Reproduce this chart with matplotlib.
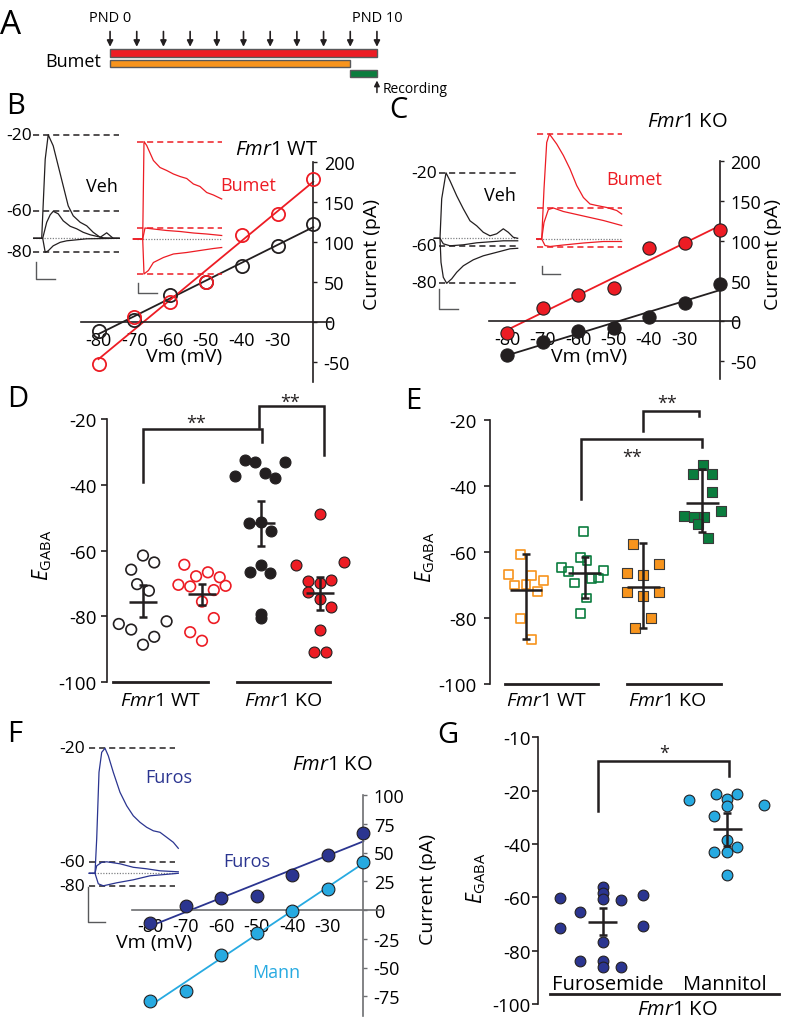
import numpy as np
import matplotlib
matplotlib.use('Agg')
import matplotlib.pyplot as plt

plt.rcParams['font.family'] = ['Open Sans', 'DejaVu Sans']
plt.rcParams['mathtext.fontset'] = 'custom'
plt.rcParams['mathtext.rm'] = 'Open Sans'
plt.rcParams['mathtext.it'] = 'Open Sans:italic'
plt.rcParams['mathtext.bf'] = 'Open Sans:bold'
plt.rcParams['axes.unicode_minus'] = False

RED = '#ED1C24'; ORANGE = '#F7941D'; GREEN = '#0B7D3E'
DBLUE = '#2B3590'; LBLUE = '#27AAE1'; INK = '#231F20'

# ---------------- data ----------------
# Panel A: treatment schedule (postnatal days)
pnd_days = [0, 1, 2, 3, 4, 5, 6, 7, 8, 9, 10]
sched_start = [0, 0, 9]
sched_end = [10, 9, 10]

# I-V relations (Vm in mV, current in pA)
vm = [-80, -70, -60, -50, -40, -30, -20]
iv_b_veh = [-11, 3, 34, 50, 70, 96, 123]
iv_b_bumet = [-52, 7, 25, 50, 109, 136, 179]
iv_c_veh = [-43, -26, -13, -9, 5, 22, 46]
iv_c_bumet = [-15, 15.5, 32, 41, 90.5, 97, 114]
iv_f_furos = [-11.6, 3.7, 10.2, 11.9, 30.4, 47.8, 67]
iv_f_mann = [-79.4, -70.2, -38.9, -20, -0.6, 18.3, 41.5]
iv_yticks_bc = [-50, 0, 50, 100, 150, 200]
iv_yticks_f = [-75, -50, -25, 0, 25, 50, 75, 100]

# Example GABA current traces (time ms, current pA)
bveh1_t = [-90, -10, 25, 55, 105, 155, 205, 255, 305, 375, 440, 505, 575, 640, 675, 705, 765]
bveh1_i = [0, 0, 158, 207, 185, 145, 105, 65, 45, 32, 25, 12, 2, 11, 5, 0, 0]
bveh2_t = [-90, 0, 40, 75, 105, 155, 205, 275, 340, 405, 475, 540, 605, 765]
bveh2_i = [0, 0, 32, 47, 54, 49, 35, 24, 19, 12, 7, 4, 1, 0]
bveh3_t = [-90, 0, 25, 55, 105, 175, 240, 340, 440, 765]
bveh3_i = [0, 0, -28, -25, -15, -8, -5, -3, -1, 0]

bbum1_t = [-93, 0, 13, 40, 107, 173, 240, 307, 373, 440, 507, 573, 640, 707, 790]
bbum1_i = [0, 0, 195, 187, 157, 143, 137, 130, 125, 121, 110, 105, 93, 88, 80]
bbum2_t = [-93, 0, 23, 107, 240, 373, 507, 640, 790]
bbum2_i = [0, 0, 22, 20, 17, 15, 12, 10, 7]
bbum3_t = [-93, 0, 13, 57, 107, 207, 307, 440, 573, 707, 790]
bbum3_i = [0, 0, -70, -63, -47, -37, -30, -27, -23, -19, -17]

cveh1_t = [-57, 0, 17, 60, 100, 167, 233, 300, 367, 433, 500, 567, 633, 683, 733, 777]
cveh1_i = [0, 0, 79, 131, 115, 85, 59, 35, 25, 12, 5, 9, 19, 12, 2, 0]
cveh2_t = [-57, 0, 33, 100, 233, 367, 500, 633, 777]
cveh2_i = [0, 0, -11, -15, -13, -9, -7, -5, -5]
cveh3_t = [-57, 0, 10, 33, 67, 117, 167, 233, 333, 433, 567, 700, 777]
cveh3_i = [0, 0, -48, -78, -90, -81, -68, -55, -43, -35, -28, -21, -20]

cbum1_t = [-50, 0, 23, 50, 77, 150, 217, 283, 350, 417, 483, 550, 650, 750, 800]
cbum1_i = [0, 0, 100, 193, 210, 190, 167, 140, 107, 83, 70, 67, 63, 57, 50]
cbum2_t = [-50, 0, 23, 67, 117, 217, 350, 483, 617, 800]
cbum2_i = [0, 0, 33, 59, 62, 55, 49, 43, 37, 27]
cbum3_t = [-50, 0, 33, 83, 217, 417, 617, 800]
cbum3_i = [0, 0, -13, -15, -12, -8, -5, -5]

ffur1_t = [-57, 0, 17, 40, 67, 100, 133, 183, 250, 317, 383, 450, 517, 583, 650, 717, 783, 833]
ffur1_i = [0, 0, 69, 202, 242, 250, 235, 202, 162, 135, 115, 102, 92, 85, 82, 72, 62, 50]
ffur2_t = [-57, 0, 17, 67, 117, 250, 383, 517, 650, 833]
ffur2_i = [0, 0, 15, 22, 23, 19, 12, 9, 5, 3]
ffur3_t = [-57, 0, 33, 83, 217, 383, 550, 833]
ffur3_i = [0, 0, -21, -25, -19, -13, -5, 0]

inset_labels = ['-20', '-60', '-80']

# Panel D: EGABA (mV)
d_wt_veh = [-61.5, -63.6, -65.8, -70.2, -72.2, -82.3, -84.0, -81.5, -86.2, -88.6]
d_wt_veh_jit = [0, .19, -.20, -.10, .10, -.41, -.20, .40, .19, 0]
d_wt_bum = [-64.3, -70.4, -70.9, -67.8, -66.6, -68.1, -70.7, -72.0, -75.5, -80.5, -84.8, -87.4]
d_wt_bum_jit = [-.30, -.40, -.20, -.10, .10, .30, .40, .20, 0, .20, -.20, 0]
d_ko_veh = [-37.2, -32.4, -33.0, -36.5, -37.9, -33.0, -51.6, -51.2, -53.9, -66.6, -64.4, -66.9, -79.3, -80.6]
d_ko_veh_jit = [-.44, -.27, -.10, .07, .24, .41, -.20, 0, .17, -.19, 0, .15, 0, 0]
d_ko_bum = [-48.9, -64.3, -63.4, -69.1, -68.9, -72.7, -69.8, -74.7, -77.2, -84.0, -90.7, -90.7]
d_ko_bum_jit = [0, -.41, .40, -.20, .18, -.20, 0, 0, .18, 0, -.11, .10]
d_means = [-75.5, -73.2, -51.6, -72.9]
d_err_lo = [-80.3, -76.5, -58.5, -78.0]
d_err_hi = [-70.5, -70.2, -45.0, -68.0]

# Panel E: EGABA (mV)
e_wt_a = [-60.9, -66.8, -67.3, -70.1, -70.0, -68.8, -72.1, -80.2, -86.5]
e_wt_a_jit = [-.10, -.30, .10, -.20, 0, .30, .19, -.10, .10]
e_wt_b = [-53.8, -64.7, -66.1, -61.7, -62.7, -65.6, -68.0, -68.1, -69.5, -74.0, -78.7]
e_wt_b_jit = [-.02, -.39, -.27, -.07, .04, .32, .23, .11, -.17, .03, -.07]
e_ko_a = [-57.7, -66.5, -67.0, -63.7, -72.3, -73.5, -72.3, -80.2, -83.0]
e_ko_a_jit = [-.17, -.28, 0, .26, -.28, -.01, .26, .13, -.14]
e_ko_b = [-33.6, -36.5, -36.5, -42.0, -49.3, -49.6, -49.6, -47.8, -51.6, -55.9]
e_ko_b_jit = [.01, -.15, .17, .17, -.31, -.14, .03, .33, -.07, .10]
e_means = [-71.5, -66.6, -70.8, -45.3]
e_err_lo = [-86.5, -74.1, -83.2, -54.0]
e_err_hi = [-60.7, -61.7, -57.5, -35.0]

# Panel G: EGABA (mV)
g_furo = [-60.25, -65.4, -71.6, -56.25, -58.4, -60.6, -61.0, -59.0, -70.6, -76.9, -83.75, -83.75, -86.25, -86.25]
g_furo_jit = [-.34, -.18, -.34, 0, 0, 0, .15, .32, .32, 0, -.18, 0, 0, .15]
g_mann = [-23.4, -21.25, -21.25, -23.1, -25.6, -25.4, -29.4, -38.4, -41.25, -43.1, -43.1, -51.5]
g_mann_jit = [-.31, -.09, .08, 0, 0, .29, -.11, 0, .08, -.11, 0, 0]
g_means = [-69.1, -34.4]
g_err_lo = [-74.1, -40.6]
g_err_hi = [-64.1, -28.4]
g_categories = ['Furosemide', 'Mannitol']
g_tick_vals = [-100, -80, -60, -40, -20, 0]
g_tick_labels = ['-100', '-80', '-60', '-40', '-20', '-10']
de_ticks = [-100, -80, -60, -40, -20]

# ---------------- layout helpers ----------------
W, H = 788, 1020
fig = plt.figure(figsize=(W / 100, H / 100), dpi=100)
fig.patch.set_facecolor('white')


def px_axes(l, t, r, b):
    ax = fig.add_axes([l / W, 1 - b / H, (r - l) / W, (b - t) / H])
    ax.patch.set_visible(False)
    return ax


def map_axes(xlim, ylim, xref_px, xref_val, sx, yref_px, yref_val, sy):
    l = xref_px + (xlim[0] - xref_val) * sx
    r = xref_px + (xlim[1] - xref_val) * sx
    t = yref_px - (ylim[1] - yref_val) * sy
    b = yref_px - (ylim[0] - yref_val) * sy
    ax = px_axes(l, t, r, b)
    ax.set_xlim(xlim)
    ax.set_ylim(ylim)
    return ax


def ftext(x, y, s, **kw):
    kw.setdefault('ha', 'center')
    kw.setdefault('va', 'center')
    fig.text(x / W, 1 - y / H, s, **kw)


def fmr(s):
    return r'$\mathit{Fmr1}$ ' + s


EG = r'$\mathit{E}_{\mathrm{GABA}}$'

# ---------------- Panel A ----------------
axA = px_axes(30, 10, 457, 100)
axA.set_xlim(-3, 13)
axA.set_ylim(4.6, -4.4)
axA.axis('off')
rows = [0, 1.03, 2.02]
axA.barh(rows, np.array(sched_end) - np.array(sched_start), left=sched_start,
         height=0.72, color=[RED, ORANGE, GREEN], edgecolor='#58595B', linewidth=1.0)
for d in pnd_days:
    axA.annotate('', xy=(d, -0.62), xytext=(d, -2.15),
                 arrowprops=dict(arrowstyle='-|>', color=INK, lw=1.2,
                                 mutation_scale=9, shrinkA=0, shrinkB=0))
axA.text(pnd_days[0], -3.6, 'PND 0', ha='center', va='center', fontsize=10.5)
axA.text(pnd_days[-1], -3.6, 'PND 10', ha='center', va='center', fontsize=10.5)
axA.text(-0.35, 0.8, 'Bumet', ha='right', va='center', fontsize=13)
axA.annotate('', xy=(pnd_days[-1], 2.75), xytext=(pnd_days[-1], 3.95),
             arrowprops=dict(arrowstyle='-|>', color=INK, lw=1.1,
                             mutation_scale=8, shrinkA=0, shrinkB=0))
axA.text(10.22, 3.55, 'Recording', ha='left', va='center', fontsize=10)


# ---------------- I-V panels ----------------
def iv_axes(xref_px, yref_px, sx, sy, ylim, yticks, spine_color, xpad):
    ax = map_axes((-85, -15), ylim, xref_px, -20, sx, yref_px, 0, sy)
    ax.spines['left'].set_visible(False)
    ax.spines['top'].set_visible(False)
    ax.spines['right'].set_position(('data', -20))
    ax.spines['right'].set_bounds(ylim[0], ylim[1])
    ax.spines['bottom'].set_position(('data', 0))
    ax.spines['bottom'].set_bounds(-85, -15)
    for s in ['right', 'bottom']:
        ax.spines[s].set_color(spine_color)
        ax.spines[s].set_linewidth(1.2)
    ax.yaxis.tick_right()
    ax.set_yticks(yticks)
    ax.set_xticks(vm[:-1])
    ax.tick_params(axis='y', direction='out', length=3, width=1, color=spine_color,
                   pad=4.5, labelsize=13)
    ax.tick_params(axis='x', length=0, pad=xpad, labelsize=13)
    return ax


def iv_series(ax, y, color, filled, ms):
    coef = np.polyfit(vm, y, 1)
    xs = np.array([vm[0], vm[-1]])
    ax.plot(xs, np.polyval(coef, xs), color=color, lw=1.3, zorder=2, clip_on=False)
    ax.plot(vm, y, 'o', ms=ms, mfc=color if filled else 'none',
            mec=INK if filled else color, mew=0.8 if filled else 1.3,
            zorder=3, clip_on=False)


def inset(rect, x0, y0, traces, color, dash_color, dash_t, labels, label_px, sbar):
    l, t, r, b = rect
    ax = px_axes(l, t, r, b)
    ax.set_xlim((l - x0) * 10, (r - x0) * 10)
    ax.set_ylim((y0 - b) * 2, (y0 - t) * 2)
    ax.axis('off')
    ax.plot(dash_t, [0, 0], color='#808285', lw=0.9, ls=(0, (1, 1.2)), zorder=1)
    for tt, ii in traces:
        ax.plot(tt, ii, color=color, lw=0.9, zorder=3)
    for k, (tt, ii) in enumerate(traces):
        arr = np.array(ii)
        lv = arr[np.argmax(np.abs(arr))]
        ax.plot(dash_t, [lv, lv], color=dash_color, lw=1.1, ls=(0, (4, 2.6)), zorder=2)
        if labels:
            ftext(label_px, y0 - lv / 2, labels[k], ha='right', fontsize=12.5)
    sx0, sy0, sx1, sy1 = sbar
    ax.plot([(sx0 - x0) * 10, (sx0 - x0) * 10, (sx1 - x0) * 10],
            [(y0 - sy0) * 2, (y0 - sy1) * 2, (y0 - sy1) * 2], color='#58595B', lw=1.0)
    return ax


# Panel B
axB = iv_axes(313.3, 323.3, 3.58, 0.8, (-75, 200), iv_yticks_bc, '#231F20', 6)
iv_series(axB, iv_b_veh, INK, False, 9.5)
iv_series(axB, iv_b_bumet, RED, False, 9.5)
inset((26, 120, 126, 300), 42.7, 239.3,
      [(bveh1_t, bveh1_i), (bveh2_t, bveh2_i), (bveh3_t, bveh3_i)],
      INK, INK, [-94, 763], inset_labels, 32, (36, 263, 55, 280))
inset((128, 125, 230, 300), 142.7, 240,
      [(bbum1_t, bbum1_i), (bbum2_t, bbum2_i), (bbum3_t, bbum3_i)],
      RED, RED, [-60, 790], None, 0, (138.3, 284.3, 156.7, 294))
ftext(102, 187, 'Veh', fontsize=13)
ftext(248, 186, 'Bumet', fontsize=13, color=RED)
ftext(277, 150, fmr('WT'), fontsize=14.5)
ftext(184, 357, 'Vm (mV)', fontsize=14)
ftext(372, 254, 'Current (pA)', fontsize=14, rotation=90)

# Panel C
axC = iv_axes(720, 321.7, 3.55, 0.8, (-73, 200), iv_yticks_bc, '#231F20', 7)
iv_series(axC, iv_c_veh, INK, True, 9.5)
iv_series(axC, iv_c_bumet, RED, True, 9.5)
inset((428, 160, 522, 315), 440, 239.3,
      [(cveh1_t, cveh1_i), (cveh2_t, cveh2_i), (cveh3_t, cveh3_i)],
      INK, INK, [-7, 777], inset_labels, 436.7, (439.3, 290, 458.3, 310))
inset((530, 125, 626, 280), 541.7, 240,
      [(cbum1_t, cbum1_i), (cbum2_t, cbum2_i), (cbum3_t, cbum3_i)],
      RED, RED, [-50, 800], None, 0, (541.7, 266.7, 560, 275))
ftext(500, 196, 'Veh', fontsize=13)
ftext(634, 180, 'Bumet', fontsize=13, color=RED)
ftext(687, 122, fmr('KO'), fontsize=14.5)
ftext(589, 357, 'Vm (mV)', fontsize=14)
ftext(773, 255, 'Current (pA)', fontsize=14, rotation=90)

# Panel F
axF = iv_axes(363.3, 911, 3.555, 1.15, (-92, 100), iv_yticks_f, '#6D6E71', 5)
iv_series(axF, iv_f_furos, DBLUE, True, 9.2)
iv_series(axF, iv_f_mann, LBLUE, True, 9.2)
inset((82, 735, 182, 930), 95, 874.3,
      [(ffur1_t, ffur1_i), (ffur2_t, ffur2_i), (ffur3_t, ffur3_i)],
      DBLUE, INK, [-57, 800], inset_labels, 85, (88.3, 888, 105, 923.3))
ftext(169, 778, 'Furos', fontsize=13, color=DBLUE)
ftext(247, 862, 'Furos', fontsize=13, color=DBLUE)
ftext(276, 973, 'Mann', fontsize=13, color=LBLUE)
ftext(332, 765, fmr('KO'), fontsize=14.5)
ftext(154, 943, 'Vm (mV)', fontsize=14)
ftext(428, 890, 'Current (pA)', fontsize=14, rotation=90)


# ---------------- scatter panels ----------------
def scatter_axes(xlim, xref_px, sx, ylim, yref_px, yref_val, sy, yticks, pad):
    ax = map_axes(xlim, ylim, xref_px, 1, sx, yref_px, yref_val, sy)
    for s in ['top', 'right', 'bottom']:
        ax.spines[s].set_visible(False)
    ax.spines['left'].set_linewidth(1.2)
    ax.spines['left'].set_color(INK)
    ax.set_xticks([])
    ax.set_yticks(yticks)
    ax.tick_params(axis='y', length=4, width=1.2, color=INK, pad=pad, labelsize=13.5)
    return ax


def group(ax, pos, vals, jit, marker, fc, ec, lw, s, mean, lo, hi, hw):
    ax.scatter(np.array(jit) + pos, vals, s=s, marker=marker, facecolors=fc,
               edgecolors=ec, linewidths=lw, zorder=3, clip_on=False)
    ax.plot([pos - hw, pos + hw], [mean, mean], color=INK, lw=1.8, zorder=4,
            solid_capstyle='butt')
    ax.errorbar([pos], [mean], yerr=[[mean - lo], [hi - mean]], fmt='none',
                ecolor=INK, elinewidth=1.8, capsize=2.8, capthick=1.8, zorder=4)


def bracket(ax, x1, x2, top, y1, y2, label, lx, ly, sy):
    ax.plot([x1, x1, x2, x2], [y1, top, top, y2], color=INK, lw=1.8, clip_on=False,
            solid_joinstyle='miter')
    # ly = visual centre of the asterisks; baseline is ~0.6 em below it
    ax.text(lx, ly - 0.6 * 13 * 1.389 / sy, label, ha='center', va='baseline',
            fontsize=13, color=INK)


# Panel D
axD = scatter_axes((0.39, 4.5), 143, 59, (-100, -20), 420, -20, 3.29, de_ticks, 3.5)
group(axD, 1, d_wt_veh, d_wt_veh_jit, 'o', 'none', INK, 1.2, 58, d_means[0], d_err_lo[0], d_err_hi[0], 0.24)
group(axD, 2, d_wt_bum, d_wt_bum_jit, 'o', 'none', RED, 1.2, 58, d_means[1], d_err_lo[1], d_err_hi[1], 0.24)
group(axD, 3, d_ko_veh, d_ko_veh_jit, 'o', INK, INK, 0.8, 62, d_means[2], d_err_lo[2], d_err_hi[2], 0.24)
group(axD, 4, d_ko_bum, d_ko_bum_jit, 'o', RED, INK, 0.8, 62, d_means[3], d_err_lo[3], d_err_hi[3], 0.24)
bracket(axD, 1.0, 3.02, -23, -39, -27, '**', 1.9, -19.5, 3.29)
bracket(axD, 2.96, 4.06, -15.9, -22.5, -31, '**', 3.5, -12.9, 3.29)
for x1, x2 in [(0.49, 2.1), (2.59, 4.17)]:
    axD.plot([x1, x2], [-100, -100], color=INK, lw=2.0, clip_on=False)
axD.text(1.29, -105.3, fmr('WT'), ha='center', va='center', fontsize=14)
axD.text(3.37, -105.3, fmr('KO'), ha='center', va='center', fontsize=14)
ftext(42, 555, EG, fontsize=15, rotation=90)

# Panel E
axE = scatter_axes((0.387, 4.6), 526, 58.7, (-100, -20), 420.7, -20, 3.3, de_ticks, 5.5)
group(axE, 1, e_wt_a, e_wt_a_jit, 's', 'none', ORANGE, 1.2, 40, e_means[0], e_err_lo[0], e_err_hi[0], 0.28)
group(axE, 2, e_wt_b, e_wt_b_jit, 's', 'none', GREEN, 1.2, 40, e_means[1], e_err_lo[1], e_err_hi[1], 0.28)
group(axE, 3, e_ko_a, e_ko_a_jit, 's', ORANGE, '#3A3A3A', 0.8, 44, e_means[2], e_err_lo[2], e_err_hi[2], 0.28)
group(axE, 4, e_ko_b, e_ko_b_jit, 's', GREEN, '#3A3A3A', 0.8, 44, e_means[3], e_err_lo[3], e_err_hi[3], 0.28)
bracket(axE, 2.99, 3.94, -17.3, -23.3, -19, '**', 3.41, -13.2, 3.3)
bracket(axE, 1.94, 3.99, -25.9, -44, -28.4, '**', 2.81, -29.6, 3.3)
for x1, x2 in [(0.637, 2.226), (2.718, 4.32)]:
    axE.plot([x1, x2], [-100, -100], color=INK, lw=2.0, clip_on=False)
axE.text(1.35, -104.9, fmr('WT'), ha='center', va='center', fontsize=14)
axE.text(3.40, -104.9, fmr('KO'), ha='center', va='center', fontsize=14)
ftext(425, 557, EG, fontsize=15, rotation=90)

# Panel G
axG = scatter_axes((0.481, 2.45), 602.7, 124.7, (-100, 0), 1005, -100, 2.667, g_tick_vals, 1.5)
axG.set_yticklabels(g_tick_labels)
group(axG, 1, g_furo, g_furo_jit, 'o', DBLUE, INK, 0.8, 60, g_means[0], g_err_lo[0], g_err_hi[0], 0.115)
group(axG, 2, g_mann, g_mann_jit, 'o', LBLUE, INK, 0.8, 60, g_means[1], g_err_lo[1], g_err_hi[1], 0.115)
bracket(axG, 0.965, 2.01, -8.75, -27.5, -14.6, '*', 1.49, -3.75, 2.667)
axG.text(1.04, -92.5, g_categories[0], ha='center', va='center', fontsize=14.5)
axG.text(1.98, -92.5, g_categories[1], ha='center', va='center', fontsize=14.5)
axG.plot([0.577, 2.41], [-96.3, -96.3], color=INK, lw=2.0, clip_on=False)
axG.text(1.6, -101.9, fmr('KO'), ha='center', va='center', fontsize=14.5)
ftext(476, 878, EG, fontsize=15, rotation=90)

# ---------------- panel letters ----------------
for lab, x, y, fs in [('A', 11, 25, 24), ('B', 16, 107, 21), ('C', 398, 111, 21),
                      ('D', 18, 400, 21), ('E', 413, 402, 21), ('F', 15, 734, 21),
                      ('G', 448, 736, 21)]:
    ftext(x, y, lab, fontsize=fs)

fig.savefig('out.png', dpi=100)
